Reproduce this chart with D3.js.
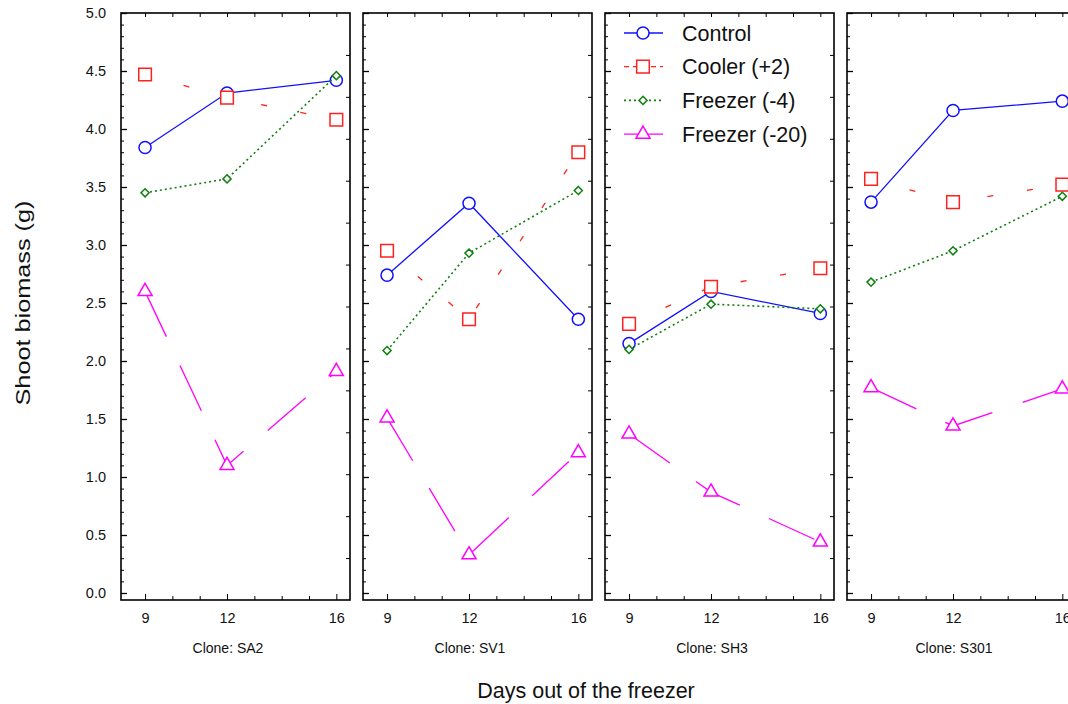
<!DOCTYPE html>
<html><head><meta charset="utf-8">
<script src="https://cdn.jsdelivr.net/npm/d3@7"></script>
<style>body{margin:0;background:#fff}svg{display:block;font-family:"Liberation Sans",Arial,sans-serif}</style>
</head><body><svg id="c" width="1068" height="704"></svg>
<script>
const days = [9, 12, 16];
const clones = ["SA2", "SV1", "SH3", "S301"];
const seriesNames = ["Control", "Cooler (+2)", "Freezer (-4)", "Freezer (-20)"];
// values per clone: [day9, day12, day16]
const control   = [[3.84, 4.31, 4.42], [2.74, 3.36, 2.36], [2.15, 2.60, 2.41], [3.37, 4.16, 4.24]];
const cooler    = [[4.47, 4.27, 4.08], [2.95, 2.36, 3.80], [2.32, 2.64, 2.80], [3.57, 3.37, 3.52]];
const freezer4  = [[3.45, 3.57, 4.46], [2.09, 2.93, 3.47], [2.10, 2.49, 2.45], [2.68, 2.95, 3.42]];
const freezer20 = [[2.60, 1.10, 1.91], [1.51, 0.33, 1.21], [1.37, 0.87, 0.44], [1.77, 1.44, 1.76]];
const xTickValues = [9, 10, 11, 12, 13, 14, 15, 16];
const xTickLabels = [9, 12, 16];

const seriesData = [control, cooler, freezer4, freezer20];
const diamondSym = d3.symbolDiamond2 || d3.symbolDiamond;
const styles = [
  {color: "#1010ff", dash: null, sym: d3.symbolCircle, size: 115, w: 1.3},
  {color: "#ff2020", dash: "6,34", sym: d3.symbolSquare, size: 160, w: 1.3},
  {color: "#108010", dash: "2,3", sym: diamondSym, size: 42, w: 1.6},
  {color: "#ff00ff", dash: "50,32", sym: d3.symbolTriangle, size: 85, w: 1.3}
];

const svg = d3.select("#c");
const panelW = 229, panelStep = 242, panelX0 = 121, frameTop = 13, frameBottom = 600;
const y = d3.scaleLinear().domain([0, 5]).range([593, 13]);
const yRight = d3.scaleLinear().domain([0, 14]).range([frameBottom, frameTop]);

clones.forEach((cl, ci) => {
  const left = panelX0 + ci * panelStep;
  const x = d3.scaleLinear().domain([8.12, 16.5]).range([left, left + panelW]);
  const g = svg.append("g");

  const ax = g.append("g").attr("transform", `translate(${left},0)`)
    .call(d3.axisLeft(y).tickValues(d3.range(0, 5.01, 0.5)).tickSize(-6).tickPadding(15)
      .tickFormat(ci === 0 ? d3.format(".1f") : () => ""));
  ax.select(".domain").remove();
  ax.selectAll("text").attr("font-size", 14.5).attr("fill", "#111");
  ax.selectAll("line").attr("stroke-width", 1.3);
  const axm = g.append("g").attr("transform", `translate(${left},0)`)
    .call(d3.axisLeft(y).tickValues(d3.range(0, 5.01, 0.1)).tickSize(-3).tickFormat(""));
  axm.select(".domain").remove();

  const ar = g.append("g").attr("transform", `translate(${left + panelW},0)`)
    .call(d3.axisRight(yRight).tickValues(d3.range(1, 14)).tickSize(-4).tickFormat(""));
  ar.select(".domain").remove();

  const bx = g.append("g").attr("transform", `translate(0,${frameBottom})`)
    .call(d3.axisBottom(x).tickValues(xTickValues).tickSize(-4).tickPadding(13)
      .tickFormat(d => xTickLabels.includes(d) ? d : ""));
  bx.select(".domain").remove();
  bx.selectAll("text").attr("font-size", 14.5).attr("fill", "#111");
  bx.selectAll(".tick").filter(d => xTickLabels.includes(d)).select("line").attr("y2", -6);
  const tx = g.append("g").attr("transform", `translate(0,${frameTop})`)
    .call(d3.axisTop(x).tickValues(xTickValues).tickSize(-4).tickFormat(""));
  tx.select(".domain").remove();

  g.append("rect").attr("x", left).attr("y", frameTop).attr("width", panelW).attr("height", frameBottom - frameTop)
    .attr("fill", "none").attr("stroke", "#000").attr("stroke-width", 1.6);

  g.append("text").attr("x", left + 107).attr("y", 653).attr("text-anchor", "middle")
    .attr("font-size", 14).attr("fill", "#111").text("Clone: " + cl);

  seriesData.forEach((sd, si) => {
    const st = styles[si];
    const pts = days.map((d, di) => [d, sd[ci][di]]);
    const line = d3.line().x(d => x(d[0])).y(d => y(d[1]));
    g.append("path").attr("d", line(pts)).attr("fill", "none").attr("stroke", st.color)
      .attr("stroke-width", st.w).attr("stroke-dasharray", st.dash);
    g.selectAll(null).data(pts).enter().append("path")
      .attr("transform", d => `translate(${x(d[0])},${y(d[1])})`)
      .attr("d", d3.symbol().type(st.sym).size(st.size))
      .attr("fill", "#fff").attr("stroke", st.color).attr("stroke-width", 1.5);
  });
});

const lg = svg.append("g");
seriesNames.forEach((n, i) => {
  const st = styles[i];
  const yy = 33 + i * 33.7;
  const legDash = i === 1 ? "5,4" : (i === 3 ? null : st.dash);
  lg.append("line").attr("x1", 624).attr("x2", 663).attr("y1", yy).attr("y2", yy)
    .attr("stroke", st.color).attr("stroke-width", st.w).attr("stroke-dasharray", legDash);
  lg.append("path").attr("transform", `translate(643,${yy})`)
    .attr("d", d3.symbol().type(st.sym).size(st.size)).attr("fill", "#fff")
    .attr("stroke", st.color).attr("stroke-width", 1.5);
  lg.append("text").attr("x", 682).attr("y", yy + 7.5).attr("font-size", 21.5).attr("fill", "#111").text(n);
});

svg.append("text").attr("transform", "translate(30,303) rotate(-90)").attr("text-anchor", "middle")
  .attr("font-size", 21).attr("textLength", 205).attr("lengthAdjust", "spacingAndGlyphs")
  .attr("fill", "#111").text("Shoot biomass (g)");
svg.append("text").attr("x", 586).attr("y", 698).attr("text-anchor", "middle")
  .attr("font-size", 21.5).attr("fill", "#111").text("Days out of the freezer");
</script></body></html>
